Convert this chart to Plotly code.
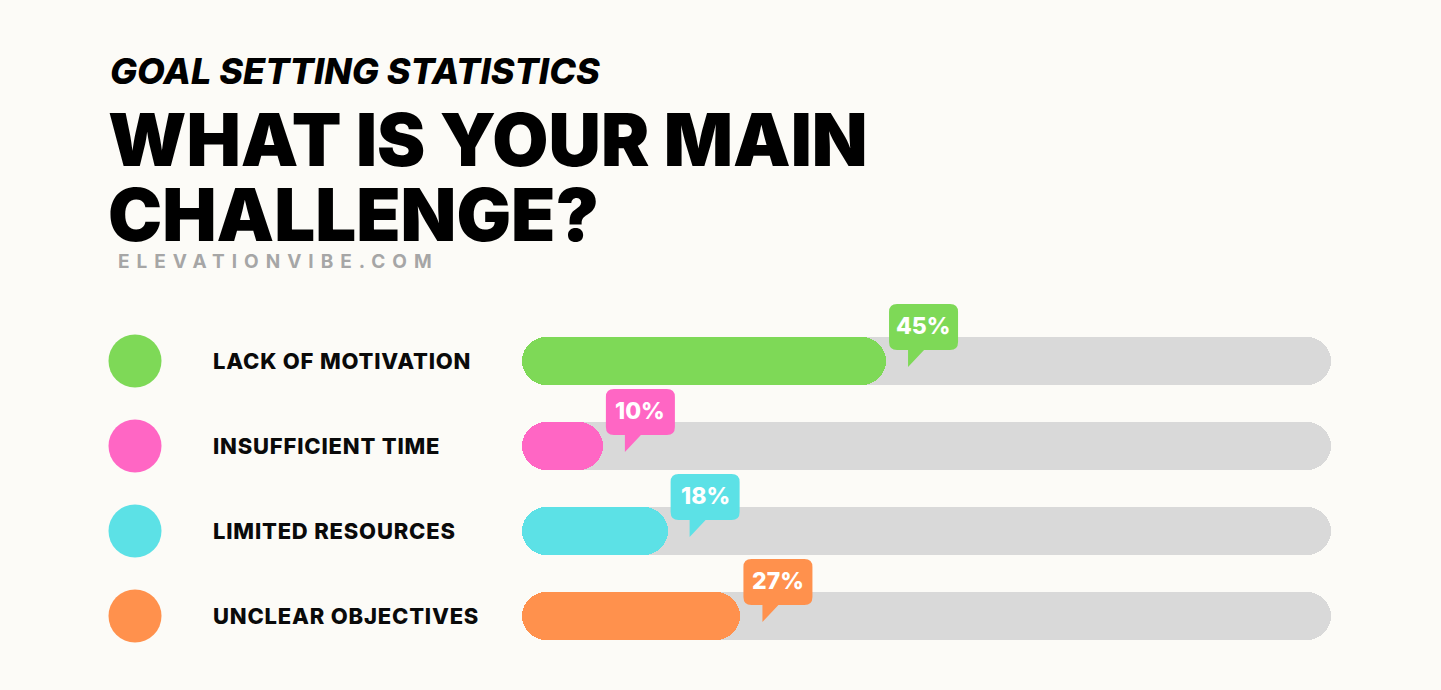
import plotly.graph_objects as go

# ---- data ----
categories = ["LACK OF MOTIVATION", "INSUFFICIENT TIME", "LIMITED RESOURCES", "UNCLEAR OBJECTIVES"]
values = [45, 10, 18, 27]
colors = ["#7ED957", "#FF66C4", "#5CE1E6", "#FF914D"]
track_total = 100
kicker = "GOAL SETTING STATISTICS"
title_lines = ["WHAT IS YOUR MAIN", "CHALLENGE?"]
source = "ELEVATIONVIBE.COM"

W, H = 1441, 690
BG = "#FCFBF7"
TRACK = "#D9D9D9"
FONT = "Inter"

fig = go.Figure()

BAR_W = 0.56
zero_base = [0] * len(categories)

# grey tracks
fig.add_trace(go.Bar(y=categories, x=[track_total] * len(categories), base=zero_base, orientation="h",
                     width=BAR_W, marker=dict(color=TRACK, cornerradius="50%", line_width=0),
                     hoverinfo="skip", showlegend=False))
# value bars
fig.add_trace(go.Bar(y=categories, x=values, base=zero_base, orientation="h", width=BAR_W,
                     marker=dict(color=colors, cornerradius="50%", line_width=0),
                     hovertemplate="%{y}: %{x}%<extra></extra>", showlegend=False))

# legend dots
fig.add_trace(go.Scatter(x=[135] * len(categories), y=categories, xaxis="x2", yaxis="y",
                         mode="markers", marker=dict(size=53, color=colors, line_width=0),
                         hoverinfo="skip", showlegend=False))

# row labels
for cat in categories:
    fig.add_annotation(text=f'<span style="letter-spacing:0.8px">{cat}</span>', xref="paper", x=211 / W,
                       yref="y", y=cat, xanchor="left", yanchor="middle", showarrow=False,
                       font=dict(family=FONT, size=22, color="#0A0A0A", weight=800))

# callouts (speech bubbles anchored to bar end)
L, R, T, B, r = 3, 72, 57, 11, 8
px0, px1, tipy = 22, 38, -6
bubble = (f"M {L + r},{T} L {R - r},{T} Q {R},{T} {R},{T - r} L {R},{B + r} Q {R},{B} {R - r},{B} "
          f"L {px1},{B} L {px0},{tipy} L {px0},{B} L {L + r},{B} Q {L},{B} {L},{B + r} "
          f"L {L},{T - r} Q {L},{T} {L + r},{T} Z")
for cat, v, c in zip(categories, values, colors):
    fig.add_shape(type="path", xref="x", yref="y", xsizemode="pixel", ysizemode="pixel",
                  xanchor=v, yanchor=cat, path=bubble, fillcolor=c, line_width=0, layer="above")
    fig.add_annotation(text=f"{v}%", xref="x", x=v, yref="y", y=cat, xshift=(L + R) / 2, yshift=(T + B) / 2 + 1,
                       xanchor="center", yanchor="middle", showarrow=False,
                       font=dict(family=FONT, size=23, color="white", weight=800))

# headings
fig.add_annotation(text=kicker, xref="paper", yref="paper", x=108 / W, y=1 - 71 / H,
                   xanchor="left", yanchor="middle", showarrow=False,
                   font=dict(family=FONT, size=36, color="#000000", weight=800, style="italic"))
fig.add_annotation(text=title_lines[0], xref="paper", yref="paper", x=106 / W, y=1 - 139 / H,
                   xanchor="left", yanchor="middle", showarrow=False,
                   font=dict(family=FONT, size=72.5, color="#000000", weight=900))
fig.add_annotation(text=title_lines[1], xref="paper", yref="paper", x=106 / W, y=1 - 214 / H,
                   xanchor="left", yanchor="middle", showarrow=False,
                   font=dict(family=FONT, size=72.5, color="#000000", weight=900))
fig.add_annotation(text=f'<span style="letter-spacing:7px">{source}</span>', xref="paper", yref="paper",
                   x=116 / W, y=1 - 261 / H, xanchor="left", yanchor="middle", showarrow=False,
                   font=dict(family=FONT, size=19, color="#A6A6A6", weight=700))

fig.update_layout(
    width=W, height=H,
    margin=dict(l=0, r=0, t=0, b=0),
    paper_bgcolor=BG, plot_bgcolor="rgba(0,0,0,0)",
    barmode="overlay", bargap=0,
    showlegend=False,
    xaxis=dict(domain=[522 / W, 1331 / W], range=[0, track_total], visible=False, fixedrange=True),
    xaxis2=dict(domain=[0, 1], range=[0, W], anchor="y", visible=False, fixedrange=True),
    yaxis=dict(type="category", categoryorder="array", categoryarray=categories,
               range=[(H - 361) / 85, -361 / 85], visible=False, fixedrange=True),
)

fig.write_html("out.html", config={"displayModeBar": False},
               post_script="document.body.style.margin='0';document.body.style.background='" + BG + "';")
